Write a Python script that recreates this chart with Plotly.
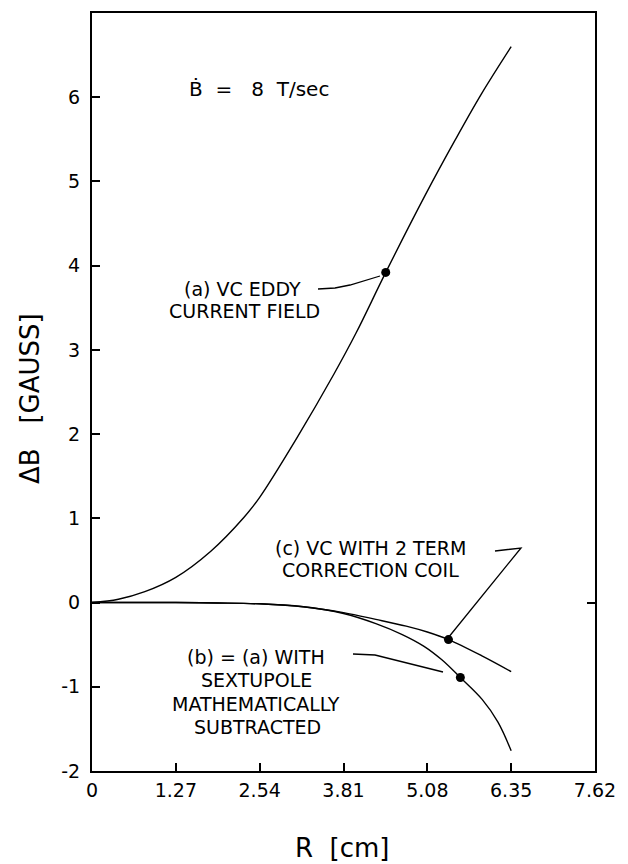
import plotly.graph_objects as go

# ---- data ----
r_a = [0, 0.4, 0.8, 1.27, 1.8, 2.3, 2.54, 3.1, 3.67, 4.0, 4.45, 5.05, 5.5, 5.9, 6.35]
b_a = [0, 0.04, 0.13, 0.30, 0.61, 1.01, 1.25, 1.95, 2.72, 3.20, 3.92, 4.84, 5.49, 6.04, 6.60]

r_c = [0, 0.6, 1.27, 1.9, 2.54, 3.2, 3.81, 4.3, 4.76, 5.08, 5.40, 5.9, 6.35]
b_c = [0, 0, 0, -0.005, -0.015, -0.05, -0.12, -0.20, -0.28, -0.35, -0.44, -0.63, -0.82]

r_b = [0, 0.6, 1.27, 1.9, 2.54, 3.2, 3.81, 4.3, 4.7, 5.03, 5.3, 5.58, 5.91, 6.15, 6.35]
b_b = [0, 0, 0, -0.005, -0.015, -0.05, -0.13, -0.25, -0.38, -0.52, -0.68, -0.89, -1.15, -1.42, -1.76]

dot_r = [4.45, 5.40, 5.58]
dot_b = [3.92, -0.44, -0.89]

x_tickvals = [0, 1.27, 2.54, 3.81, 5.08, 6.35, 7.62]
x_ticktext = ["0", "1.27", "2.54", "3.81", "5.08", "6.35", "7.62"]
y_tickvals = [-2, -1, 0, 1, 2, 3, 4, 5, 6]
y_ticktext = ["-2", "-1", "0", "1", "2", "3", "4", "5", "6"]

# ---- layout geometry (page pixels; page body has an 8px default margin) ----
OFF = 8
W, H = 628 - OFF, 864 - OFF
PL, PR, PT, PB = 92, 595, 13, 771          # plot box in page pixels
L, T = PL - OFF, PT - OFF
pw, ph = PR - PL, PB - PT
R, B = W - L - pw, H - T - ph
X0, X1 = 0, 7.62
Y0, Y1 = -2, 7.0


def dx(px):
    return X0 + (px - PL) / pw * (X1 - X0)


def dy(py):
    return Y1 - (py - PT) / ph * (Y1 - Y0)


FONT = "DejaVu Sans"
line_style = dict(color="black", width=1.4)

fig = go.Figure()
fig.add_trace(go.Scatter(x=r_a, y=b_a, mode="lines", line=line_style, line_shape="spline",
                         showlegend=False, hoverinfo="skip"))
fig.add_trace(go.Scatter(x=r_c, y=b_c, mode="lines", line=line_style, line_shape="spline",
                         showlegend=False, hoverinfo="skip"))
fig.add_trace(go.Scatter(x=r_b, y=b_b, mode="lines", line=line_style, line_shape="spline",
                         showlegend=False, hoverinfo="skip"))
fig.add_trace(go.Scatter(x=dot_r, y=dot_b, mode="markers", marker=dict(color="black", size=9),
                         showlegend=False, hoverinfo="skip"))
# invisible trace so the right-hand axis is drawn
fig.add_trace(go.Scatter(x=[dot_r[0]], y=[dot_b[0]], yaxis="y2", mode="markers",
                         marker=dict(opacity=0), showlegend=False, hoverinfo="skip"))


def text(px, py, s, size=19, anchor="center", angle=0):
    fig.add_annotation(x=(px - PL) / pw, y=(PB - py) / ph, xref="paper", yref="paper",
                       text=s, showarrow=False,
                       xanchor=anchor, yanchor="middle", textangle=angle,
                       font=dict(family=FONT, size=size, color="black"))


text(259, 89, "B\u0307  =   8  T/sec", size=20)
text(303, 289, "(a) VC EDDY", anchor="right")
text(322, 311, "CURRENT FIELD", anchor="right")
text(370, 548, "(c) VC WITH 2 TERM")
text(370, 570, "CORRECTION COIL")
text(256, 657, "(b) = (a) WITH")
text(256, 680, "SEXTUPOLE")
text(256, 704, "MATHEMATICALLY")
text(257, 727, "SUBTRACTED")

# axis titles
text(30, 399, "\u0394B   [GAUSS]", size=26, angle=-90)
text(342, 848, "R  [cm]", size=26)


def path(points):
    s = "M {} {}".format(dx(points[0][0]), dy(points[0][1]))
    for p in points[1:]:
        s += " L {} {}".format(dx(p[0]), dy(p[1]))
    return s


for pts in [
    [(318, 289), (335, 288), (350, 285), (380, 276)],
    [(495, 551), (521, 548), (448, 638)],
    [(353, 654), (375, 655), (443, 672)],
]:
    fig.add_shape(type="path", path=path(pts), xref="x", yref="y",
                  line=dict(color="black", width=1.3))

axis_common = dict(showgrid=False, zeroline=False, showline=True, linecolor="black", linewidth=2,
                   ticks="inside", ticklen=8, tickcolor="black", tickwidth=1.5,
                   tickfont=dict(family=FONT, size=19, color="black"))

fig.update_layout(
    width=W, height=H,
    margin=dict(l=L, r=R, t=T, b=B, autoexpand=False),
    paper_bgcolor="white", plot_bgcolor="white",
    xaxis=dict(range=[X0, X1], tickvals=x_tickvals, ticktext=x_ticktext, mirror=True,
               ticklabelstandoff=1, **axis_common),
    yaxis=dict(range=[Y0, Y1], tickvals=y_tickvals, ticktext=y_ticktext,
               ticklabelstandoff=6, **axis_common),
    yaxis2=dict(range=[Y0, Y1], overlaying="y", side="right", anchor="x", tickvals=[0],
                showticklabels=False, **axis_common),
)

fig.write_html("out.html")
